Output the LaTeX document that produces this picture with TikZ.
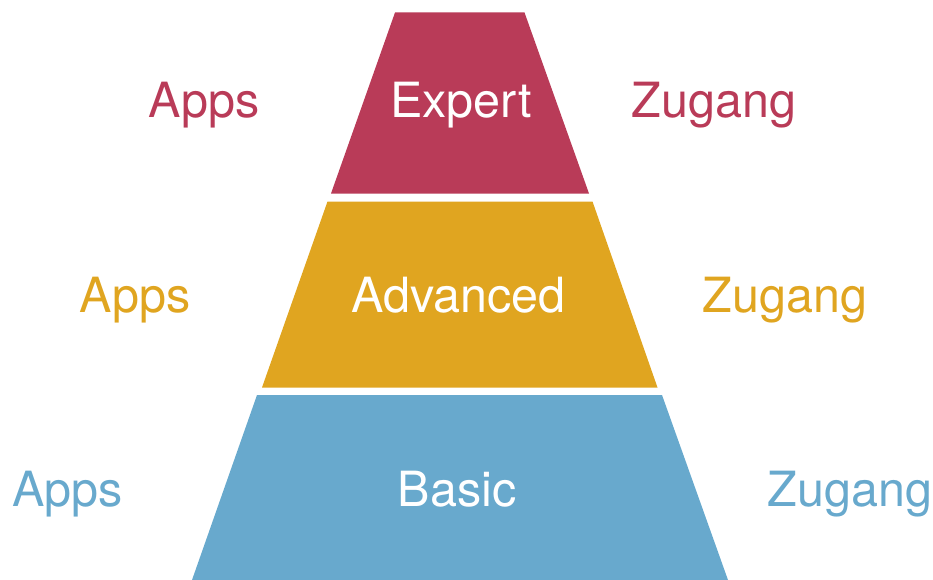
\documentclass[tikz,border=0pt]{standalone}
\usepackage{fontspec}
\setmainfont{TeX Gyre Heros}
\definecolor{cred}{RGB}{185,59,88}
\definecolor{cgold}{RGB}{224,165,32}
\definecolor{cblue}{RGB}{104,169,205}
\begin{document}
\begin{tikzpicture}[x=1pt,y=-1pt,
  lbl/.style={inner sep=0pt,anchor=base,font=\fontsize{48.5}{52}\selectfont},
  inlbl/.style={lbl,text=white}]
\useasboundingbox (0,0) rectangle (933,580);
% layers
\fill[cred]  (395,12.5) -- (524.5,12.5) -- (589,193.5) -- (331,193.5) -- cycle;
\fill[cgold] (327.5,201.5) -- (592.5,201.5) -- (657.5,387.5) -- (262,387.5) -- cycle;
\fill[cblue] (257,395) -- (662,395) -- (728,580) -- (192,580) -- cycle;
% labels
\node[inlbl] (expert) at (461,117.5) {Expert};
\node[inlbl] (advanced) at (458.5,312.5) {Advanced};
\node[inlbl] (basic) at (457,506) {Basic};
\node[lbl,text=cred] (apps1) at (204,117.5) {Apps};
\node[lbl,text=cred] (zug1) at (714,117.5) {Zugang};
\node[lbl,text=cgold] (apps2) at (135,312.5) {Apps};
\node[lbl,text=cgold] (zug2) at (785,312.5) {Zugang};
\node[lbl,text=cblue] (apps3) at (67.5,506.5) {Apps};
\node[lbl,text=cblue] (zug3) at (850,506.5) {Zugang};
\end{tikzpicture}
\end{document}
